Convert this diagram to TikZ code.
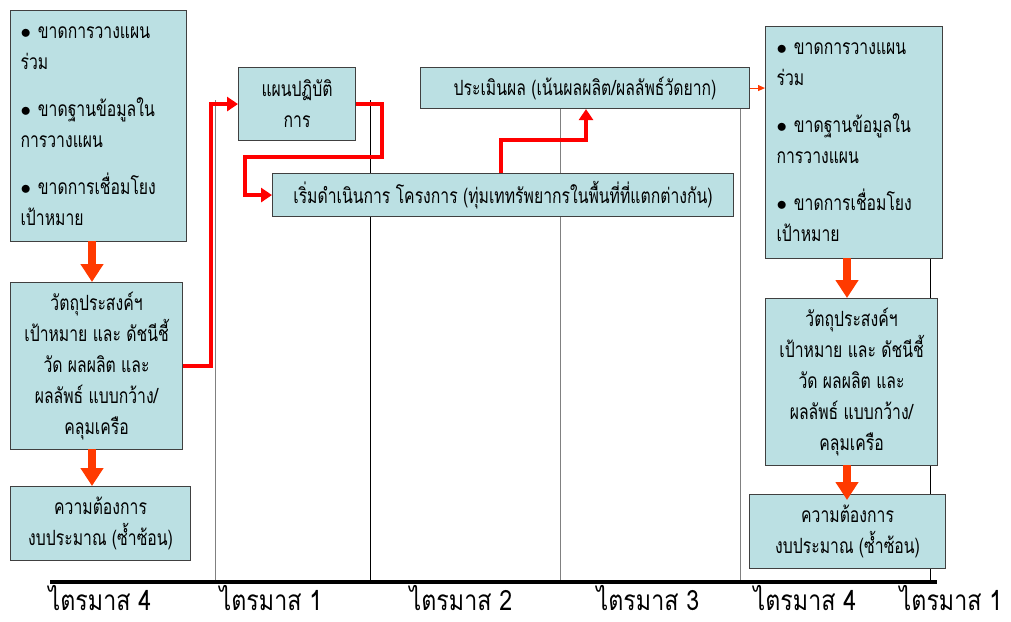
\documentclass[tikz,border=0pt]{standalone}
\usepackage{fontspec}
\newfontfamily\thaifont[Script=Thai,FakeStretch=0.75]{Loma}
\newfontfamily\thaiwide[Script=Thai,FakeStretch=0.83]{Loma}
\usetikzlibrary{arrows.meta}
\definecolor{boxfill}{HTML}{BBE0E3}
\definecolor{boxline}{HTML}{404040}
\definecolor{flow}{HTML}{FF3A00}
\begin{document}
\begin{tikzpicture}[x=1pt,y=-1pt,
  box/.style={draw=boxline, line width=1.1pt, fill=boxfill, anchor=north west,
    inner sep=0pt, font=\thaifont\fontsize{21}{31}\selectfont},
  listbox/.style={box, align=left, inner xsep=10pt},
  textbox/.style={box, align=center},
  bigflow/.style={draw=flow, line width=8pt,
    -{Triangle[width=22pt,length=18pt]}, shorten <=-1pt},
  redflow/.style={draw=red, line width=4pt, line join=miter,
    -{Triangle[width=14pt,length=11pt]}},
  thinflow/.style={draw=flow, line width=1pt, -{Triangle[width=6pt,length=7pt]}},
  divider/.style={line width=0.8pt},
  quarter/.style={font=\thaiwide\fontsize{28}{30}\selectfont, inner sep=0pt,
    anchor=base, text depth=0pt}
]
\useasboundingbox (0,0) rectangle (1011,621);

% quarter dividers
\draw[divider, gray] (215,100) -- (215,582);
\draw[divider, black] (370,100) -- (370,582);
\draw[divider, gray] (560,108) -- (560,582);
\draw[divider, gray] (740,108) -- (740,582);
\draw[divider, black] (930,258) -- (930,582);

% time axis
\draw[line width=3.5pt] (50,582) -- (937,582);
\node[quarter] (q1) at (100,610) {ไตรมาส 4};
\node[quarter] (q2) at (271,610) {ไตรมาส 1};
\node[quarter] (q3) at (461,610) {ไตรมาส 2};
\node[quarter] (q4) at (648,610) {ไตรมาส 3};
\node[quarter] (q5) at (805,610) {ไตรมาส 4};
\node[quarter] (q6) at (951,610) {ไตรมาส 1};

% left column
\node[listbox, text width=156pt, minimum height=231pt] (gapL) at (10,10)
  {$\bullet$ ขาดการวางแผน\\ร่วม\\[16pt]
   $\bullet$ ขาดฐานข้อมูลใน\\การวางแผน\\[16pt]
   $\bullet$ ขาดการเชื่อมโยง\\เป้าหมาย};
\node[textbox, minimum width=172pt, minimum height=167pt] (objL) at (10,282)
  {วัตถุประสงค์ฯ\\เป้าหมาย และ ดัชนีชี้\\วัด ผลผลิต และ\\ผลลัพธ์ แบบกว้าง/\\คลุมเครือ};
\node[textbox, minimum width=180pt, minimum height=74pt] (budL) at (10,486)
  {ความต้องการ\\งบประมาณ (ซ้ำซ้อน)};

% middle
\node[textbox, minimum width=117pt, minimum height=73pt] (plan) at (238,67)
  {แผนปฏิบัติ\\การ};
\node[textbox, minimum width=329pt, minimum height=41pt] (eval) at (420,67)
  {ประเมินผล (เน้นผลผลิต/ผลลัพธ์วัดยาก)};
\node[textbox, minimum width=461pt, minimum height=43pt] (start) at (272,173)
  {เริ่มดำเนินการ โครงการ (ทุ่มเททรัพยากรในพื้นที่ที่แตกต่างกัน)};

% right column
\node[listbox, text width=155pt, inner xsep=11pt, minimum height=232pt] (gapR) at (765,26)
  {$\bullet$ ขาดการวางแผน\\ร่วม\\[16pt]
   $\bullet$ ขาดฐานข้อมูลใน\\การวางแผน\\[16pt]
   $\bullet$ ขาดการเชื่อมโยง\\เป้าหมาย};
\node[textbox, minimum width=172pt, minimum height=167pt] (objR) at (765,298)
  {วัตถุประสงค์ฯ\\เป้าหมาย และ ดัชนีชี้\\วัด ผลผลิต และ\\ผลลัพธ์ แบบกว้าง/\\คลุมเครือ};
\node[textbox, minimum width=196pt, minimum height=74pt] (budR) at (749,494)
  {ความต้องการ\\งบประมาณ (ซ้ำซ้อน)};

% thick down arrows
\coordinate (axL) at (92,0);
\coordinate (axR) at (847,0);
\draw[bigflow] (axL |- gapL.south) -- (axL |- objL.north);
\draw[bigflow] (axL |- objL.south) -- (axL |- budL.north);
\draw[bigflow] (axR |- gapR.south) -- (axR |- objR.north);
\draw[bigflow, shorten >=-6pt] (axR |- objR.south) -- (axR |- budR.north);

% red flow through the year
\draw[redflow] (objL.east) -- ++(28,0) |- (plan.west);
\draw[redflow] (plan.east) -- ++(26,0) -- ++(0,53) -| ++(-137,0) |- (start.west);
\coordinate (k1) at (501,140);
\coordinate (k2) at (586,140);
\draw[redflow] (k1 |- start.north) -- (k1) -- (k2) -- (k2 |- eval.south);

% evaluation feeds the next cycle
\draw[thinflow] (eval.east) -- (gapR.west |- eval.east);
\end{tikzpicture}
\end{document}
